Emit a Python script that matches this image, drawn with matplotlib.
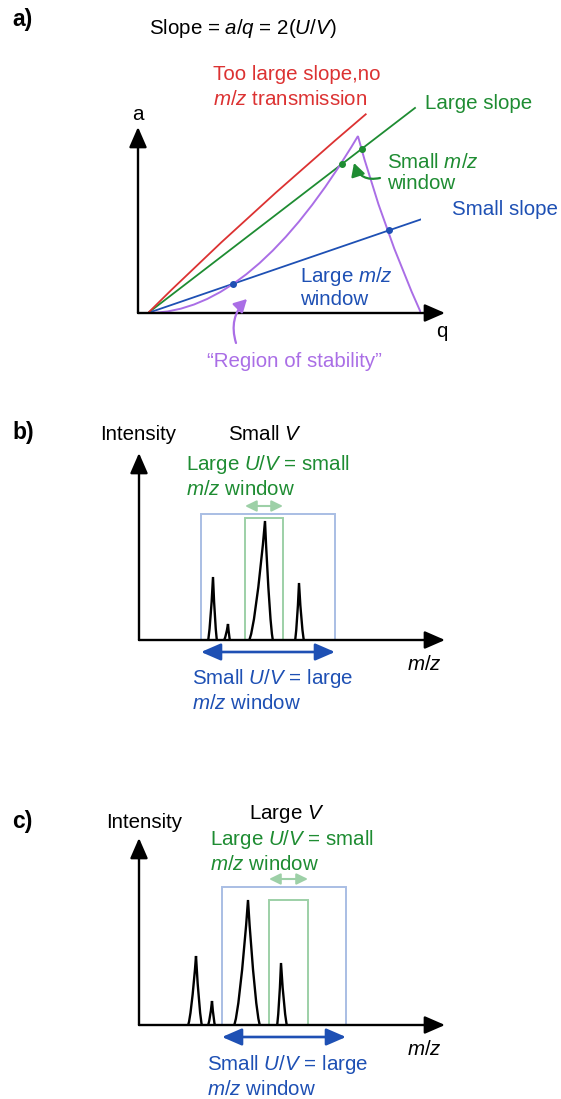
import matplotlib
matplotlib.use('Agg')
import matplotlib.pyplot as plt
from matplotlib.path import Path
from matplotlib.patches import PathPatch, Rectangle

plt.rcParams['font.family'] = ['Liberation Sans', 'DejaVu Sans']
plt.rcParams['mathtext.fontset'] = 'custom'
plt.rcParams['mathtext.rm'] = 'Liberation Sans'
plt.rcParams['mathtext.it'] = 'Liberation Sans:italic'
plt.rcParams['mathtext.bf'] = 'Liberation Sans:bold'

# ---- panel a: stability diagram (q, a in arbitrary units) ----
too_large_ctrl = [(0.0, 0.0), (0.333, 0.333), (0.80, 0.73)]
large_slope = 0.768
large_q_end = 0.978
small_slope = 0.343
small_q_end = 1.088
stab_left = [(0.0, 0.0), (0.385, 0.0), (0.769, 0.648)]
stab_right = [(0.769, 0.648), (0.86, 0.31), (1.0, 0.0)]
green_dot_q = [0.711, 0.784]
blue_dot_q = [0.311, 0.883]

# ---- panel b: small V ----
b_mz = [74, 89, 126, 160]
b_int = [63, 16, 119, 57]
b_wl = [5, 4, 16, 4]
b_wr = [4, 2, 8, 5]
b_wide = (62, 196)
b_narrow = (106, 144)

# ---- panel c: large V ----
c_mz = [57, 73, 109, 142]
c_int = [69, 24, 125, 62]
c_wl = [8, 4, 14, 4]
c_wr = [6, 3, 12, 6]
c_wide = (83, 207)
c_narrow = (130, 169)

RED = '#dc3232'
GREEN = '#1e8c32'
BLUE = '#1e50b4'
PURPLE = '#aa6ee6'
LBLUE = '#a9bee4'
LGREEN = '#9dd0a7'
FS = 14.8

W, H = 561, 1099
fig = plt.figure(figsize=(W / 100, H / 100), dpi=100)


def px_axes(x0, y_axis, w, h, xlim, ylim):
    ax = fig.add_axes([x0 / W, (H - y_axis) / H, w / W, h / H])
    ax.set_xlim(*xlim)
    ax.set_ylim(*ylim)
    ax.axis('off')
    return ax


def arrow(ax, start, end, color='black', lw=1.7, style='-|>,head_length=0.62,head_width=0.27',
          ms=20, conn='arc3', z=5):
    ax.annotate('', xy=end, xytext=start, annotation_clip=False, zorder=z,
                arrowprops=dict(arrowstyle=style, color=color, lw=lw, mutation_scale=ms,
                                shrinkA=0, shrinkB=0, connectionstyle=conn))


def txt(ax, x, y, s, color='black', ha='left', **kw):
    ax.text(x, y, s, color=color, ha=ha, va='baseline', fontsize=FS, clip_on=False, **kw)


def bezier(ax, pts, color, lw):
    codes = [Path.MOVETO] + [Path.CURVE3] * (len(pts) - 1)
    ax.add_patch(PathPatch(Path(pts, codes), fill=False, ec=color, lw=lw, zorder=3))


# panel labels
for lab, y in [('a)', 26), ('b)', 439), ('c)', 828)]:
    fig.text(12 / W, 1 - y / H, lab, fontsize=16.5, fontweight='bold', va='baseline')

# ================= panel a =================
axa = px_axes(148, 313, 273, 273, (0, 1), (0, 1))
sc = 273.0
qa = lambda px: (px - 148) / sc
aa = lambda py: (313 - py) / sc

arrow(axa, (qa(138), 0), (qa(138), aa(127)))
arrow(axa, (qa(138), 0), (qa(445), 0))

bezier(axa, too_large_ctrl, RED, 1.3)
axa.plot([0, large_q_end], [0, large_slope * large_q_end], color=GREEN, lw=1.3)
axa.plot([0, small_q_end], [0, small_slope * small_q_end], color=BLUE, lw=1.3)
bezier(axa, stab_left + stab_right[1:], PURPLE, 1.4)

axa.plot(green_dot_q, [large_slope * q for q in green_dot_q], 'o', color=GREEN, ms=4, zorder=4)
axa.plot(blue_dot_q, [small_slope * q for q in blue_dot_q], 'o', color=BLUE, ms=4, zorder=4)

arrow(axa, (qa(380), aa(178)), (qa(354), aa(163)), color=GREEN, lw=1.6,
      style='-|>,head_length=0.55,head_width=0.3', ms=14, conn='arc3,rad=-0.45')
arrow(axa, (qa(236), aa(343)), (qa(247), aa(299)), color=PURPLE, lw=1.6,
      style='-|>,head_length=0.55,head_width=0.3', ms=14, conn='arc3,rad=-0.3')

txt(axa, qa(243), aa(34), r'Slope = $a/q$ = 2$(U/V)$', ha='center')
txt(axa, qa(213), aa(80), 'Too large slope,no', color=RED)
txt(axa, qa(213), aa(105), r'$m/z$ transmission', color=RED)
txt(axa, qa(425), aa(109), 'Large slope', color=GREEN)
txt(axa, qa(387), aa(168), r'Small $m/z$', color=GREEN)
txt(axa, qa(387), aa(189), 'window', color=GREEN)
txt(axa, qa(452), aa(215), 'Small slope', color=BLUE)
txt(axa, qa(300), aa(282), r'Large $m/z$', color=BLUE)
txt(axa, qa(300), aa(305), 'window', color=BLUE)
txt(axa, qa(294), aa(367), '\u201cRegion of stability\u201d', color=PURPLE, ha='center')
txt(axa, qa(138), aa(120), 'a', ha='center')
txt(axa, qa(442), aa(337), 'q', ha='center')


# ================= panels b and c =================
def peak(ax, c, h, wl, wr):
    # cusp-shaped peak: flat flare at the base, steep near the apex
    pts = [(c - wl, 0), (c - 0.8 * wl, 0.02 * h), (c - 0.35 * wl, 0.45 * h), (c, h),
           (c + 0.35 * wr, 0.45 * h), (c + 0.8 * wr, 0.02 * h), (c + wr, 0)]
    codes = [Path.MOVETO] + [Path.CURVE4] * 6
    ax.add_patch(PathPatch(Path(pts, codes), fill=False, ec='black', lw=1.7,
                           joinstyle='miter', zorder=3))


def spectrum(y_axis, mz, inten, wl, wr, wide, narrow, wide_h, narrow_h, small_arrow_y, texts):
    ax = px_axes(139, y_axis, 306, 187, (0, 306), (0, 187))
    ax.add_patch(Rectangle((wide[0], 0), wide[1] - wide[0], wide_h, fill=False,
                           ec=LBLUE, lw=1.4, zorder=2))
    ax.add_patch(Rectangle((narrow[0], 0), narrow[1] - narrow[0], narrow_h, fill=False,
                           ec=LGREEN, lw=1.4, zorder=2))
    for c, h, l, r in zip(mz, inten, wl, wr):
        peak(ax, c, h, l, r)
    arrow(ax, (0, 0), (0, 187))
    arrow(ax, (0, 0), (306, 0))
    arrow(ax, (narrow[0], small_arrow_y), (narrow[1], small_arrow_y), color=LGREEN, lw=1.5,
          style='<|-|>,head_length=0.45,head_width=0.22', ms=15)
    arrow(ax, (wide[0], -12), (wide[1], -12), color=BLUE, lw=1.9,
          style='<|-|>,head_length=0.6,head_width=0.26', ms=20)
    for x, y, s, col, ha in texts:
        txt(ax, x, y, s, color=col, ha=ha)
    txt(ax, 303, -30, r'$m/z$', ha='right')
    return ax


spectrum(640, b_mz, b_int, b_wl, b_wr, b_wide, b_narrow, 126, 122, 134, [
    (-39, 200, 'Intensity', 'black', 'left'),
    (126, 200, r'Small $V$', 'black', 'center'),
    (47, 170, r'Large $U/V$ = small', GREEN, 'left'),
    (47, 145, r'$m/z$ window', GREEN, 'left'),
    (53, -44, r'Small $U/V$ = large', BLUE, 'left'),
    (53, -69, r'$m/z$ window', BLUE, 'left'),
])

spectrum(1025, c_mz, c_int, c_wl, c_wr, c_wide, c_narrow, 138, 125, 146, [
    (-33, 197, 'Intensity', 'black', 'left'),
    (148, 206, r'Large $V$', 'black', 'center'),
    (71, 180, r'Large $U/V$ = small', GREEN, 'left'),
    (71, 155, r'$m/z$ window', GREEN, 'left'),
    (68, -45, r'Small $U/V$ = large', BLUE, 'left'),
    (68, -70, r'$m/z$ window', BLUE, 'left'),
])

fig.savefig('out.png', dpi=100)
